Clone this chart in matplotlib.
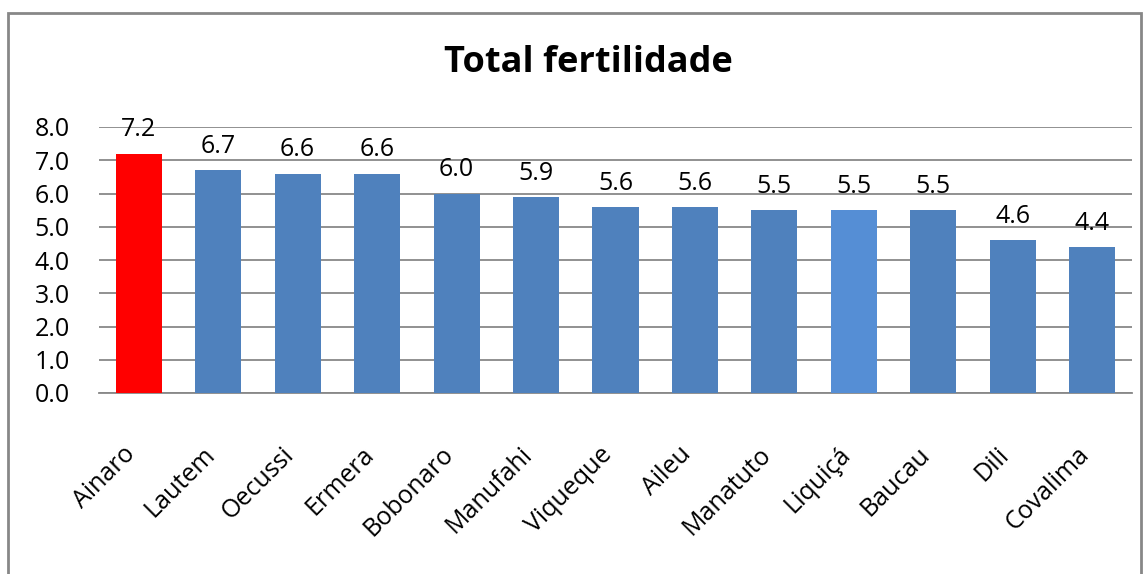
import matplotlib
matplotlib.use("Agg")
import matplotlib.pyplot as plt
from matplotlib.patches import Rectangle
import matplotlib.transforms as mtransforms

categories = ["Ainaro", "Lautem", "Oecussi", "Ermera", "Bobonaro", "Manufahi",
              "Viqueque", "Aileu", "Manatuto", "Liquiçá", "Baucau", "Dili", "Covalima"]
values = [7.2, 6.7, 6.6, 6.6, 6.0, 5.9, 5.6, 5.6, 5.5, 5.5, 5.5, 4.6, 4.4]
yticks = [0, 1, 2, 3, 4, 5, 6, 7, 8]

blue = "#4F81BD"
colors = [blue] * len(categories)
colors[0] = "#FF0000"
colors[9] = "#558ED5"

plt.rcParams['font.family'] = ['Open Sans', 'DejaVu Sans']

W, H = 1145, 574
fig = plt.figure(figsize=(W / 100, H / 100), dpi=100)
fig.patches.append(Rectangle((8 / W, -0.05), (1141 - 8) / W, 1.05 - 13 / H,
                             transform=fig.transFigure, fill=False,
                             edgecolor="#878787", linewidth=2, zorder=0))

ax = fig.add_axes([99 / W, 1 - 393 / H, (1132 - 99) / W, (393 - 127) / H])
x = list(range(len(categories)))
bars = ax.bar(x, values, width=0.58, color=colors, zorder=3)
ax.set_xlim(-0.5, len(categories) - 0.5)
ax.set_ylim(0, 8)
ax.set_yticks(yticks)
ax.set_yticklabels([f"{v:.1f}" for v in yticks], fontsize=18)
ax.grid(axis="y", color="#888888", linewidth=1.3, zorder=0)
for s in ["top", "right", "left"]:
    ax.spines[s].set_visible(False)
ax.spines["bottom"].set_color("#888888")
ax.spines["bottom"].set_linewidth(1.3)
ax.tick_params(axis="both", length=0)
ax.tick_params(axis="y", pad=21)

ax.set_xticks(x)
ax.set_xticklabels(categories, rotation=45, ha="right", rotation_mode="anchor", fontsize=18)
offset = mtransforms.ScaledTranslation(-16 / 100, -44 / 100, fig.dpi_scale_trans)
for lbl in ax.get_xticklabels():
    lbl.set_transform(lbl.get_transform() + offset)

for b, v in zip(bars, values):
    ax.annotate(f"{v:.1f}", (b.get_x() + b.get_width() / 2, v), xytext=(0, 8),
                textcoords="offset points", ha="center", va="bottom", fontsize=18)

fig.text(588 / W, 1 - 63 / H, "Total fertilidade", ha="center", va="center",
         fontsize=26, fontweight="bold")

fig.savefig("out.png", dpi=100)
